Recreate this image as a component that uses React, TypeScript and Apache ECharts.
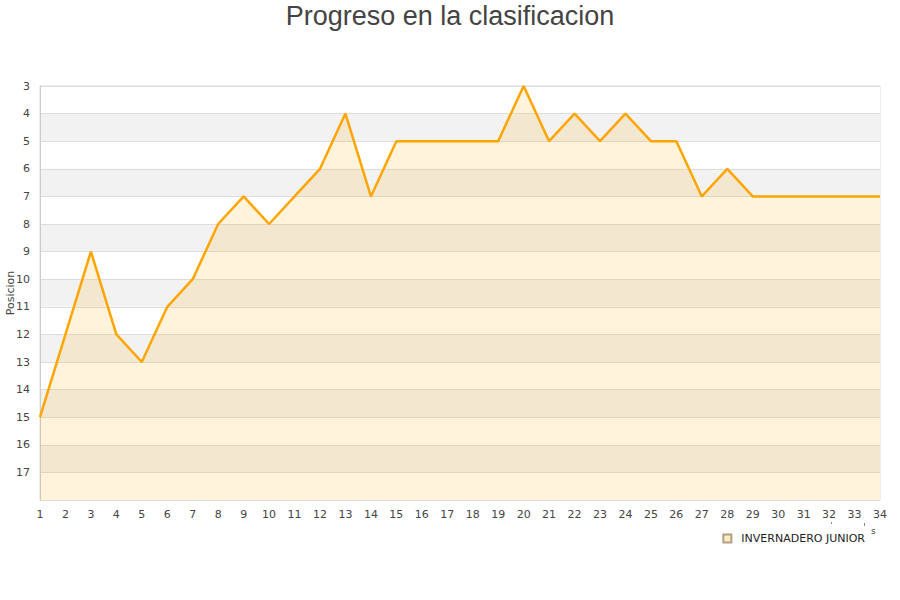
import React, { useEffect, useRef } from "react";
import * as echarts from "echarts";

const rounds = ["1","2","3","4","5","6","7","8","9","10","11","12","13","14","15","16","17","18","19","20","21","22","23","24","25","26","27","28","29","30","31","32","33","34"];
const positions = [15,12,9,12,13,11,10,8,7,8,7,6,4,7,5,5,5,5,5,3,5,4,5,4,5,5,7,6,7,7,7,7,7,7];
const teamName = "INVERNADERO JUNIOR";
const chartTitle = "Progreso en la clasificacion";
const yName = "Posicion";

export default function App() {
  const ref = useRef<HTMLDivElement>(null);
  useEffect(() => {
    const chart = echarts.init(ref.current!, null, { renderer: "svg" });
    chart.setOption({
      animation: false,
      backgroundColor: "#ffffff",
      title: {
        text: chartTitle,
        left: "center",
        top: -3,
        textStyle: { fontFamily: "Liberation Sans", fontSize: 27, fontWeight: "normal", color: "#444444" },
      },
      grid: {
        left: 40, right: 20, top: 86, bottom: 100,
        containLabel: false, outerBoundsMode: "none",
        show: true, borderColor: "#dddddd", borderWidth: 1, backgroundColor: "transparent",
      },
      legend: {
        data: [{ name: teamName, icon: "rect" }],
        right: 30,
        top: 528,
        itemWidth: 8,
        itemHeight: 8,
        itemGap: 10,
        textStyle: { fontFamily: "DejaVu Sans", fontSize: 11, color: "#222222", padding: [0, 0, 0, 5] },
      },
      xAxis: {
        type: "category",
        data: rounds,
        boundaryGap: false,
        axisLine: { show: false },
        axisTick: { show: false },
        axisLabel: { fontFamily: "DejaVu Sans", fontSize: 11, color: "#444444", margin: 9, interval: 0 },
        splitLine: { show: false },
      },
      yAxis: {
        type: "value",
        inverse: true,
        min: 3,
        max: 18,
        interval: 1,
        axisLine: { show: true, lineStyle: { color: "#cccccc" } },
        axisTick: { show: false },
        axisLabel: {
          fontFamily: "DejaVu Sans",
          fontSize: 11,
          color: "#444444",
          margin: 10,
          formatter: (v: number) => (v >= 18 ? "" : String(v)),
        },
        splitLine: { show: true, lineStyle: { color: "#dddddd" } },
        splitArea: { show: true, areaStyle: { color: ["#ffffff", "#f2f2f2"] } },
      },
      graphic: [
        {
          type: "text", x: 10, y: 293, rotation: Math.PI / 2,
          style: { text: yName, fontFamily: "DejaVu Sans", fontSize: 11, fill: "#444444", align: "center", verticalAlign: "middle" },
        },
        { type: "text", x: 871, y: 526, style: { text: "s", fontFamily: "DejaVu Sans", fontSize: 9, fill: "#444444" } },
        { type: "rect", shape: { x: 831, y: 522, width: 1, height: 2 }, style: { fill: "#888888" } },
        { type: "rect", shape: { x: 864, y: 523, width: 1, height: 3 }, style: { fill: "#888888" } },
      ],
      series: [
        {
          name: teamName,
          type: "line",
          data: positions,
          symbol: "none",
          lineStyle: { color: "#ffa500", width: 2.5 },
          itemStyle: { color: "#fdebc8", borderColor: "#b0a080", borderWidth: 1 },
          areaStyle: { color: "rgba(255,170,0,0.2)", origin: "end" },
        },
      ],
    });
    return () => chart.dispose();
  }, []);
  return <div ref={ref} style={{ width: 900, height: 600, position: "absolute", left: 0, top: 0 }} />;
}
